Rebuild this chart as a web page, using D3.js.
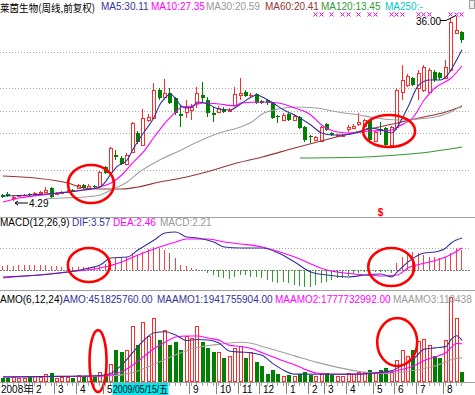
<!DOCTYPE html>
<html>
<head>
<meta charset="utf-8">
<script src="https://cdn.jsdelivr.net/npm/d3@7"></script>
<style>
body { margin: 0; background: #fff; }
svg { display: block; font-family: "Liberation Sans", Arial, sans-serif; }
</style>
</head>
<body>
<svg id="chart" width="475" height="395"></svg>
<script>
// weekly bars: open, high, low, close
var ohlc = [
  [5.23,5.41,4.72,4.89],[5.41,5.75,4.89,5.06],[4.72,5.06,4.29,4.81],[5.06,5.23,4.89,5.15],
  [5.15,5.41,5.06,5.23],[5.41,5.58,5.06,5.23],[5.32,5.75,5.23,5.58],[5.58,5.92,5.41,5.75],
  [5.75,6.61,5.58,6.09],[6.43,6.61,4.72,4.89],[5.41,5.75,5.23,5.58],[5.58,5.92,5.41,5.75],
  [5.75,6.09,5.58,5.83],[6.09,6.26,5.75,5.92],[6.43,7.12,6.26,6.95],[6.95,7.12,6.26,6.43],
  [6.43,7.12,6.26,6.69],[6.78,6.95,6.43,6.52],[6.78,9.35,6.61,9.18],[10.03,10.21,8.83,9.00],
  [9.18,13.46,9.00,13.29],[12.09,12.95,11.23,11.75],[11.58,11.92,10.38,10.55],[10.55,12.43,10.38,12.09],
  [12.61,17.75,12.43,17.57],[15.86,16.20,13.97,14.32],[13.80,19.97,13.63,18.43],[18.09,19.12,17.75,18.60],
  [18.43,24.43,18.26,23.23],[23.23,23.57,21.52,21.86],[22.03,25.12,21.86,22.72],[22.72,23.57,20.83,21.00],
  [21.86,22.03,18.95,19.29],[19.12,20.66,16.89,18.77],[19.46,21.52,18.43,20.32],[19.80,20.83,18.09,20.32],
  [21.00,23.75,20.15,22.72],[22.37,24.60,21.17,21.86],[21.52,22.03,18.60,19.29],[19.29,20.32,17.75,19.03],
  [19.46,20.49,19.29,20.15],[19.97,20.32,19.29,19.46],[19.63,20.15,19.46,19.80],[20.66,23.75,20.49,22.55],
  [22.37,25.29,21.52,22.72],[22.89,23.23,22.03,22.20],[22.29,22.72,22.03,22.37],[22.55,22.72,20.83,21.00],
  [21.35,21.52,20.83,21.00],[21.52,21.69,20.66,21.00],[21.00,21.17,18.26,18.43],[18.69,18.95,17.57,18.52],
  [18.09,19.29,17.92,18.95],[19.12,19.29,17.92,18.09],[18.09,19.12,17.92,18.77],[18.60,18.77,16.55,16.72],
  [16.89,17.06,14.32,14.66],[15.26,15.52,14.15,15.09],[14.66,15.35,14.49,15.17],[14.49,17.06,14.32,16.89],
  [17.40,17.57,16.20,16.37],[15.86,16.03,15.35,15.52],[15.43,15.69,15.35,15.52],[15.43,15.69,15.17,15.52],
  [16.55,17.23,16.03,16.89],[16.72,17.40,16.55,17.06],[17.40,19.29,17.06,17.75],[17.06,18.26,16.89,18.09],
  [18.09,18.26,14.49,14.66],[14.49,16.20,14.32,16.03],[16.46,17.75,15.52,16.29],[16.72,16.89,13.63,13.80],
  [13.80,17.06,13.63,16.89],[16.89,23.57,16.37,23.23],[22.89,27.52,21.52,24.95],[24.09,25.97,23.75,25.63],
  [25.29,25.46,23.92,24.09],[23.57,26.66,21.52,26.15],[23.23,27.52,22.89,27.17],[22.89,27.00,22.72,26.66],
  [26.32,26.66,24.60,24.95],[26.15,26.32,24.95,25.29],[25.29,28.37,25.12,27.17],[26.66,35.57,26.32,34.89],
  [33.00,36.00,32.83,33.51],[33.17,33.34,31.29,31.80]
];

// moving averages: [week, price]
var ma5 = [[0,5.06],[5,5.23],[10,5.58],[15,6.09],[18,6.61],[20,8.83],[21,10.03],[23,11.23],[24,12.95],
  [26,15.86],[28,18.60],[29,20.66],[30,21.86],[31,22.55],[32,21.69],[33,20.49],[34,20.15],[35,20.32],
  [36,21.17],[38,20.83],[39,20.32],[40,19.97],[42,19.80],[44,20.83],[46,22.03],[47,22.37],[48,22.03],
  [50,21.00],[52,19.80],[54,18.95],[57,17.23],[59,15.86],[61,15.52],[63,15.52],[66,16.03],[68,16.72],
  [70,16.37],[72,15.86],[73,16.89],[75,20.32],[77,24.09],[79,24.95],[81,24.95],[82,25.46],[84,28.37],[85,30.11]];
var ma10 = [[0,4.03],[3,4.72],[9,5.41],[15,6.09],[18,6.61],[20,7.29],[22,8.66],[24,10.72],[26,12.61],
  [28,15.17],[30,17.57],[32,19.46],[33,20.32],[35,20.49],[37,21.00],[40,20.83],[43,20.49],[44,21.00],
  [48,21.17],[51,21.00],[54,20.15],[57,18.95],[59,17.23],[62,16.03],[64,15.86],[68,16.20],[72,16.37],
  [73,16.89],[76,18.60],[78,21.52],[80,23.57],[83,25.29],[85,27.35]];
var ma30 = [[8,4.60],[12,4.75],[15,4.89],[18,5.23],[20,6.09],[23,7.46],[25,9.00],[29,11.23],[33,12.95],
  [36,14.32],[40,15.86],[44,16.90],[46,17.70],[48,19.12],[51,19.97],[54,20.32],[58,20.15],[62,19.46],
  [66,18.95],[69,18.43],[73,18.09],[77,18.26],[80,18.60],[83,19.50],[85,20.59]];
var ma60 = [[0,8.49],[6,8.15],[12,7.29],[15,6.43],[18,6.26],[22,6.26],[25,6.61],[29,7.46],[34,8.32],
  [39,9.52],[42,10.38],[48,11.75],[54,13.29],[61,15.00],[67,16.37],[73,17.57],[77,18.43],[82,19.46],[85,20.41]];
var ma120 = [[55,11.58],[67,11.75],[73,12.09],[79,12.61],[85,13.45]];

// MACD(12,26,9)
var macdBar = [0.5,0.55,0.5,0.55,0.6,0.55,0.55,0.6,0.55,0.45,0.4,
  0.35,0.3,0.3,0.35,0.3,0.35,0.35,
  0.45,0.7,0.95,1.3,1.4,1.5,1.85,1.7,2.05,2.4,2.6,2.5,2.2,1.85,1.3,0.6,0.4,0.2,0.1,0.05,-0.35,-0.55,-0.75,-0.9,-0.95,
  -0.74,-0.56,-0.56,-0.74,-0.74,-0.93,-1.12,-1.30,-1.49,-1.30,-1.49,-1.68,-1.75,-1.86,-1.86,-1.68,-1.49,-1.30,
  -1.12,-0.93,-0.86,-0.63,-0.48,-0.37,-0.26,-0.19,-0.26,-0.19,-0.19,-0.30,
  0.75,1.49,2.05,2.05,1.86,1.68,1.49,1.49,1.30,1.49,1.86,2.42,2.21];
var dif = [[0,-0.78],[12,-0.22],[16,0.22],[18,0.56],[20,1.34],[23,1.45],[25,2.23],[28,3.35],[30,4.13],
  [32,4.25],[34,3.69],[36,3.58],[39,3.13],[41,2.57],[44,2.46],[48,2.46],[51,1.90],[54,0.89],[57,-0.22],
  [60,-0.56],[64,-0.78],[67,-0.56],[70,-0.45],[72,-0.78],[73,-0.22],[75,0.89],[78,1.90],[80,2.01],
  [82,2.46],[83,3.02],[85,3.57]];
var dea = [[0,-0.89],[12,-0.22],[18,0.22],[22,0.89],[25,1.68],[29,2.57],[32,3.13],[34,3.46],[38,3.46],
  [41,3.13],[44,2.91],[48,2.57],[54,1.45],[60,0],[65,-0.45],[70,-0.67],[73,-0.56],[75,0.22],[79,0.89],
  [82,1.45],[85,2.46]];

// AMO in units of 1e8
var amo = [1.4,1.4,1.9,1.4,1.4,1.9,2.4,1.9,3.3,3.8,1.4,1.9,1.9,1.4,2.9,2.4,2.4,1.9,4.3,3.3,
  8.1,14.8,13.8,14.8,26.3,17.2,28.2,21.5,30.1,19.6,24.3,17.2,18.6,14.8,21.5,20.5,26.3,
  18.6,15.8,13.8,13.8,11.0,11.9,15.8,16.7,11.0,13.8,9.1,7.2,
  3.3,5.3,3.3,2.4,2.9,2.4,3.3,4.3,2.9,2.4,3.3,3.8,2.9,2.4,2.4,3.8,3.3,4.3,4.3,5.3,4.3,5.3,6.2,4.3,
  10.0,15.0,12.0,15.0,19.0,20.0,17.0,11.9,11.0,19.6,40.1,30.1,4.52];
var maamo1 = [[0,1.9],[10,2.2],[18,2.6],[20,3.7],[22,7.7],[24,13.5],[26,19.2],[28,23.0],[30,23.5],[32,21.9],
  [34,19.3],[36,19.8],[38,19.6],[40,18.1],[42,14.2],[44,13.8],[46,13.4],[48,12.3],[50,8.3],[52,5.1],
  [54,3.3],[60,3.2],[66,3.3],[70,4.2],[72,4.95],[74,7.5],[76,10.4],[78,15.2],[80,15.8],[82,16.4],
  [83,19.9],[84,21.6],[85,19.42]];
var maamo2 = [[0,1.9],[18,2.3],[22,4.5],[24,7.5],[26,11.5],[28,15.5],[30,18.5],[32,21.0],[34,21.5],
  [36,21.5],[38,20.5],[40,19.5],[42,17.0],[44,16.5],[46,15.5],[48,13.5],[50,11.5],[52,9.5],[54,7.8],
  [56,5.5],[58,3.8],[62,3.2],[66,3.3],[70,3.9],[72,4.4],[74,5.6],[76,7.2],[78,9.8],[80,11.5],[82,13.5],
  [84,17.9],[85,17.78]];
var maamo3 = [[0,2.0],[20,2.5],[24,4.0],[28,8.0],[32,12.5],[36,16.0],[40,17.5],[44,18.5],[46,18.0],
  [48,16.5],[50,15.0],[54,12.0],[58,9.0],[62,6.5],[66,4.5],[70,3.6],[72,3.7],[76,5.0],[80,7.2],
  [84,10.8],[85,11.04]];

var signalWeeks = [58,59,61,63,64,66,68,69,72,73,74,77,78,79,83,84,85];
var sellWeek = 70;
var mainGrid = [29.74, 23.57, 19.63, 15.86, 9.52];
var macdGrid = [2.5];

var firstLabel = '2008年';
var monthTicks = [6,10,14,19,35,40,44,48,53,57,60,64,69,73,77,82];
var monthLabels = ['2','3','4','5','9','10','11','12','1','2','3','4','5','6','7','8'];
var cursorWeek = 20;
var cursorDate = '2009/05/15/五';

var mainLegend = [['莱茵生物(周线,前复权)','#000'],['MA5:30.11','#333399'],['MA10:27.35','#ff00ff'],
  ['MA30:20.59','#999999'],['MA60:20.41','#993333'],['MA120:13.45','#339933'],['MA250:-','#00cccc']];
var macdLegend = [['MACD(12,26,9)','#000'],['DIF:3.57','#333399'],['DEA:2.46','#ff00ff'],['MACD:2.21','#999999']];
var amoLegend = [['AMO(6,12,24)','#000'],['AMO:451825760.00','#333399'],['MAAMO1:1941755904.00','#333399'],
  ['MAAMO2:1777732992.00','#ff00ff'],['MAAMO3:110438','#999999']];

// layout
var mainLegendX = [0, 101, 151, 206, 265, 321, 385];
var macdLegendX = [0, 72, 113, 160];
var amoLegendX = [0, 63, 157, 275, 393];
var red = '#ff2a2a', green = '#008000';

var svg = d3.select('#chart');
var x = d3.scaleLinear().domain([0, ohlc.length - 1]).range([3, 462]);
var yP = d3.scaleLinear().domain([4.29, 36]).range([200.5, 15.5]);
var yM = d3.scaleLinear().domain([-2.235, 5.922]).range([290, 217]);
var yA = d3.scaleLinear().domain([0, 42]).range([381, 293]);

function px(i) { return Math.round(x(i)); }

// panel separators
[217, 290, 382].forEach(function (yy) {
    svg.append('line').attr('x1', 0).attr('x2', 475).attr('y1', yy + 0.5).attr('y2', yy + 0.5)
        .attr('stroke', '#a0a0a0').attr('stroke-width', 1);
});

// grid
svg.append('g').selectAll('line').data(mainGrid).enter().append('line')
    .attr('x1', 0).attr('x2', 470)
    .attr('y1', function (d) { return Math.round(yP(d)) + 0.5; })
    .attr('y2', function (d) { return Math.round(yP(d)) + 0.5; })
    .attr('stroke', '#a8a8a8').attr('stroke-dasharray', '1,2');
svg.append('g').selectAll('line').data(macdGrid).enter().append('line')
    .attr('x1', 0).attr('x2', 470)
    .attr('y1', function (d) { return Math.round(yM(d)) + 0.5; })
    .attr('y2', function (d) { return Math.round(yM(d)) + 0.5; })
    .attr('stroke', '#a8a8a8').attr('stroke-dasharray', '1,2');
svg.append('line').attr('x1', 0).attr('x2', 470)
    .attr('y1', Math.round(yM(0)) + 0.5).attr('y2', Math.round(yM(0)) + 0.5)
    .attr('stroke', '#808080').attr('stroke-dasharray', '2,1');

// candles
var candles = svg.append('g').selectAll('g').data(ohlc).enter().append('g');
candles.each(function (d, i) {
    var g = d3.select(this), cx = px(i), up = d[3] >= d[0];
    var top = Math.round(yP(Math.max(d[0], d[3]))), bot = Math.round(yP(Math.min(d[0], d[3])));
    var hi = Math.round(yP(d[1])), lo = Math.round(yP(d[2]));
    if (up) {
        g.append('line').attr('x1', cx - 0.5).attr('x2', cx - 0.5).attr('y1', hi).attr('y2', top).attr('stroke', red);
        g.append('line').attr('x1', cx - 0.5).attr('x2', cx - 0.5).attr('y1', bot).attr('y2', lo).attr('stroke', red);
        if (bot - top < 1) {
            g.append('line').attr('x1', cx - 2).attr('x2', cx + 2).attr('y1', top + 0.5).attr('y2', top + 0.5).attr('stroke', red);
        } else {
            g.append('rect').attr('x', cx - 1.5).attr('y', top + 0.5).attr('width', 3).attr('height', bot - top)
                .attr('fill', '#fff').attr('stroke', red);
        }
    } else {
        g.append('line').attr('x1', cx - 0.5).attr('x2', cx - 0.5).attr('y1', hi).attr('y2', lo).attr('stroke', green);
        g.append('rect').attr('x', cx - 2).attr('y', top).attr('width', 4).attr('height', Math.max(1, bot - top))
            .attr('fill', green);
    }
});

function drawLine(data, ys, color) {
    var line = d3.line()
        .x(function (d) { return x(d[0]); })
        .y(function (d) { return ys(d[1]); })
        .curve(d3.curveMonotoneX);
    svg.append('path').attr('d', line(data)).attr('fill', 'none')
        .attr('stroke', color).attr('stroke-width', 1.1);
}

drawLine(ma120, yP, '#339933');
drawLine(ma60, yP, '#993333');
drawLine(ma30, yP, '#a0a0a0');
drawLine(ma10, yP, '#ff00ff');
drawLine(ma5, yP, '#333399');

// signal crosses
svg.append('g').selectAll('path').data(signalWeeks).enter().append('path')
    .attr('d', function (d) {
        var cx = px(d) - 0.5, cy = 14.5;
        return 'M' + (cx - 2) + ',' + (cy - 2) + 'L' + (cx + 2) + ',' + (cy + 2) +
            'M' + (cx - 2) + ',' + (cy + 2) + 'L' + (cx + 2) + ',' + (cy - 2);
    })
    .attr('stroke', '#ff00ff').attr('stroke-width', 1);

// high / low labels
var hiIdx = d3.maxIndex(ohlc, function (d) { return d[1]; });
var loIdx = d3.minIndex(ohlc, function (d) { return d[2]; });
var hiY = yP(ohlc[hiIdx][1]), loY = yP(ohlc[loIdx][2]);
svg.append('path')
    .attr('d', 'M' + (px(hiIdx) - 17) + ',' + (hiY + 5) + 'L' + (px(hiIdx) - 11) + ',' + (hiY + 5) + 'L' + (px(hiIdx) - 1) + ',' + hiY)
    .attr('fill', 'none').attr('stroke', '#000');
svg.append('text').attr('x', px(hiIdx) - 41).attr('y', hiY + 9).attr('font-size', 10).attr('fill', '#000')
    .text(ohlc[hiIdx][1].toFixed(2));
svg.append('path')
    .attr('d', 'M' + (px(loIdx) + 1) + ',' + (loY + 2.5) + 'L' + (px(loIdx) + 14) + ',' + (loY + 2.5) +
        'M' + (px(loIdx) + 4) + ',' + (loY + 0.5) + 'L' + (px(loIdx) + 1) + ',' + (loY + 2.5) + 'L' + (px(loIdx) + 4) + ',' + (loY + 4.5))
    .attr('fill', 'none').attr('stroke', '#000');
svg.append('text').attr('x', px(loIdx) + 15).attr('y', loY + 6.5).attr('font-size', 10).attr('fill', '#000')
    .text(ohlc[loIdx][2].toFixed(2));

// sell marker
svg.append('text').attr('x', px(sellWeek) - 0.5).attr('y', 216).attr('text-anchor', 'middle')
    .attr('font-size', 10).attr('font-weight', 'bold').attr('fill', '#ff0000').text('$');

// MACD bars and lines
svg.append('g').selectAll('line').data(macdBar).enter().append('line')
    .attr('x1', function (d, i) { return px(i) - 0.5; })
    .attr('x2', function (d, i) { return px(i) - 0.5; })
    .attr('y1', Math.round(yM(0)))
    .attr('y2', function (d) { return Math.round(yM(d)); })
    .attr('stroke', function (d) { return d >= 0 ? '#ff4040' : '#2e9e2e'; });
drawLine(dea, yM, '#ff00ff');
drawLine(dif, yM, '#333399');

// AMO bars
var bars = svg.append('g').selectAll('g').data(amo).enter().append('g');
bars.each(function (d, i) {
    var g = d3.select(this), cx = px(i), up = ohlc[i][3] >= ohlc[i][0];
    var top = Math.round(yA(d)), base = Math.round(yA(0));
    if (up) {
        g.append('rect').attr('x', cx - 1.5).attr('y', top + 0.5).attr('width', 3).attr('height', base - top)
            .attr('fill', '#fff').attr('stroke', red);
    } else {
        g.append('rect').attr('x', cx - 2).attr('y', top).attr('width', 4).attr('height', base - top + 1)
            .attr('fill', green);
    }
});
drawLine(maamo3, yA, '#a0a0a0');
drawLine(maamo2, yA, '#ff00ff');
drawLine(maamo1, yA, '#333399');

// red annotation ellipses
var rings = [
    {i: 16.3, v: 7.12, s: yP, rx: 23, ry: 19},
    {i: 71.5, v: 16.2, s: yP, rx: 26, ry: 16},
    {i: 15.9, v: 0.56, s: yM, rx: 21, ry: 17},
    {i: 71.9, v: 0.34, s: yM, rx: 23, ry: 19},
    {i: 17.6, v: 9.5, s: yA, rx: 8.5, ry: 31},
    {i: 73, v: 18.6, s: yA, rx: 20, ry: 24}
];
svg.append('g').selectAll('ellipse').data(rings).enter().append('ellipse')
    .attr('cx', function (d) { return x(d.i); })
    .attr('cy', function (d) { return d.s(d.v); })
    .attr('rx', function (d) { return d.rx; })
    .attr('ry', function (d) { return d.ry; })
    .attr('fill', 'none').attr('stroke', '#ff0000').attr('stroke-width', 2.6);

// legends
function legend(items, xs, baseY) {
    items.forEach(function (it, k) {
        svg.append('text').attr('x', xs[k]).attr('y', baseY).attr('font-size', 10)
            .attr('fill', it[1]).text(it[0]);
    });
}
svg.append('text').attr('x', 0).attr('y', 12).attr('font-size', 10.5)
    .attr('font-family', '"Noto Sans CJK SC", sans-serif').attr('textLength', 95).attr('lengthAdjust', 'spacingAndGlyphs')
    .text(mainLegend[0][0]);
legend(mainLegend.slice(1), mainLegendX.slice(1), 10);
legend(macdLegend, macdLegendX, 226);
legend(amoLegend, amoLegendX, 303);
svg.append('rect').attr('x', 469.5).attr('y', 0.5).attr('width', 5).attr('height', 8)
    .attr('fill', '#f0f0f0').attr('stroke', '#a0a0a0');

// time axis
var axis = svg.append('g');
axis.selectAll('line.minor').data(ohlc).enter().append('line')
    .attr('x1', function (d, i) { return px(i) - 0.5; })
    .attr('x2', function (d, i) { return px(i) - 0.5; })
    .attr('y1', 383).attr('y2', 386).attr('stroke', '#a0a0a0');
axis.selectAll('line.major').data(monthTicks).enter().append('line')
    .attr('x1', function (d) { return px(d) - 2.5; })
    .attr('x2', function (d) { return px(d) - 2.5; })
    .attr('y1', 383).attr('y2', 394).attr('stroke', '#808080');
axis.selectAll('text.m').data(monthTicks).enter().append('text')
    .attr('x', function (d) { return px(d) + 1; }).attr('y', 392.5)
    .attr('font-size', 10).attr('fill', '#000')
    .text(function (d, k) { return monthLabels[k]; });
axis.append('text').attr('x', 1).attr('y', 392.5).attr('font-size', 10)
    .attr('font-family', '"Liberation Sans", "Noto Sans CJK SC", sans-serif').text(firstLabel);
axis.append('rect').attr('x', x(cursorWeek) + 1.5).attr('y', 383).attr('width', 56).attr('height', 12).attr('fill', '#00e8f0');
axis.append('text').attr('x', x(cursorWeek) + 2).attr('y', 392.5).attr('font-size', 10)
    .attr('font-family', '"Liberation Sans", "Noto Sans CJK SC", sans-serif')
    .attr('textLength', 55).attr('lengthAdjust', 'spacingAndGlyphs').text(cursorDate);
</script>
</body>
</html>
